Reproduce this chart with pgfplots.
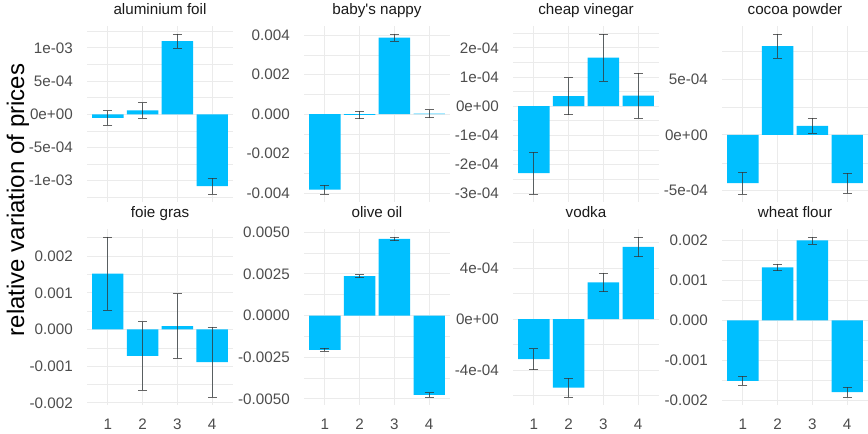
\documentclass[border=0pt]{standalone}
\usepackage{fontspec}
\setmainfont{Liberation Sans}
\usepackage{pgfplots}
\pgfplotsset{compat=1.18}
\usepackage{pgfplotstable}
\definecolor{barc}{HTML}{00BFFF}
\definecolor{gridc}{HTML}{EBEBEB}
\definecolor{tickc}{HTML}{4D4D4D}
\definecolor{stripc}{HTML}{1A1A1A}
\definecolor{errc}{HTML}{333333}

\pgfplotstableread{
x y e
1 -5.5e-5 1.1e-4
2 6e-5 1.15e-4
3 1.103e-3 1.08e-4
4 -1.083e-3 1.18e-4
}\alu
\pgfplotstableread{
x y e
1 -3.82e-3 2.2e-4
2 -4e-5 1.95e-4
3 3.88e-3 1.8e-4
4 3e-5 2e-4
}\nappy
\pgfplotstableread{
x y e
1 -2.3e-4 7.2e-5
2 3.4e-5 6.3e-5
3 1.67e-4 8.1e-5
4 3.6e-5 7.8e-5
}\vinegar
\pgfplotstableread{
x y e
1 -4.32e-4 9.7e-5
2 7.97e-4 1.08e-4
3 8.1e-5 6.7e-5
4 -4.32e-4 9e-5
}\cocoa
\pgfplotstableread{
x y e
1 1.52e-3 1.0e-3
2 -7.2e-4 9.3e-4
3 9e-5 8.8e-4
4 -8.9e-4 9.5e-4
}\foie
\pgfplotstableread{
x y e
1 -2.06e-3 9e-5
2 2.37e-3 9e-5
3 4.60e-3 1.1e-4
4 -4.75e-3 1.3e-4
}\olive
\pgfplotstableread{
x y e
1 -3.14e-4 8.3e-5
2 -5.36e-4 7.4e-5
3 2.88e-4 7.2e-5
4 5.65e-4 7.8e-5
}\vodka
\pgfplotstableread{
x y e
1 -1.515e-3 1.1e-4
2 1.33e-3 8e-5
3 2.005e-3 8.8e-5
4 -1.795e-3 1.25e-4
}\wheat

\pgfplotsset{
  panel/.style={
    anchor=south west, scale only axis, width=109.5pt, height=132pt,
    xmin=0.4, xmax=4.6, xtick={1,2,3,4},
    ybar, bar width=0.9,
    axis line style={draw=none},
    major tick length=0pt, minor tick length=0pt,
    xmajorgrids=true, ymajorgrids=true, yminorgrids=true,
    major grid style={draw=gridc, line width=0.75pt},
    minor grid style={draw=gridc, line width=0.4pt},
    scaled y ticks=false,
    tick label style={font=\fontsize{11.4}{13}\selectfont, text=tickc},
    yticklabel style={anchor=east, inner sep=0pt, xshift=-10.5pt},
    xticklabel style={anchor=base, inner sep=0pt, yshift=-18.4pt},
    title style={at={(0.5,1)}, anchor=base, inner sep=0pt, yshift=2.7pt,
      font=\fontsize{11.4}{13}\selectfont, text=stripc},
  },
  toprow/.style={xticklabels={,,,}},
  bottomrow/.style={xticklabels={1,2,3,4}},
  bars/.style={fill=barc, draw=none,
    error bars/.cd, y dir=both, y explicit, error mark=|,
    error bar style={draw=errc, draw opacity=0.75, line width=0.7pt},
    error mark options={draw=errc, draw opacity=0.75, line width=0.7pt, mark size=3.3pt}},
}

\begin{document}
\begin{tikzpicture}
\useasboundingbox (0,0) rectangle (651pt,325.5pt);

% row 1
\begin{axis}[panel, toprow, at={(65.25pt,174pt)}, title={aluminium foil},
  ymin=-1.3216e-3, ymax=1.3316e-3,
  ytick={-1e-3,-5e-4,0,5e-4,1e-3},
  yticklabels={-1e-03,-5e-04,0e+00,5e-04,1e-03},
  minor ytick={-1.25e-3,-7.5e-4,-2.5e-4,2.5e-4,7.5e-4,1.25e-3}]
\addplot[bars] table[x=x, y=y, y error=e] {\alu};
\end{axis}

\begin{axis}[panel, toprow, at={(228pt,174pt)}, title={baby\textquotesingle s nappy},
  ymin=-4.445e-3, ymax=4.465e-3,
  ytick={-0.004,-0.002,0,0.002,0.004},
  yticklabels={-0.004,-0.002,0.000,0.002,0.004},
  minor ytick={-0.003,-0.001,0.001,0.003}]
\addplot[bars] table[x=x, y=y, y error=e] {\nappy};
\end{axis}

\begin{axis}[panel, toprow, at={(384.75pt,174pt)}, title={cheap vinegar},
  ymin=-3.295e-4, ymax=2.755e-4,
  ytick={-3e-4,-2e-4,-1e-4,0,1e-4,2e-4},
  yticklabels={-3e-04,-2e-04,-1e-04,0e+00,1e-04,2e-04},
  minor ytick={-2.5e-4,-1.5e-4,-0.5e-4,0.5e-4,1.5e-4,2.5e-4}]
\addplot[bars] table[x=x, y=y, y error=e] {\vinegar};
\end{axis}

\begin{axis}[panel, toprow, at={(541.5pt,174pt)}, title={cocoa powder},
  ymin=-6.007e-4, ymax=9.767e-4,
  ytick={-5e-4,0,5e-4},
  yticklabels={-5e-04,0e+00,5e-04},
  minor ytick={-2.5e-4,2.5e-4,7.5e-4}]
\addplot[bars] table[x=x, y=y, y error=e] {\cocoa};
\end{axis}

% row 2
\begin{axis}[panel, bottomrow, at={(65.25pt,21.75pt)}, title={foie gras},
  ymin=-2.058e-3, ymax=2.738e-3,
  ytick={-0.002,-0.001,0,0.001,0.002},
  yticklabels={-0.002,-0.001,0.000,0.001,0.002},
  minor ytick={-0.0015,-0.0005,0.0005,0.0015,0.0025}]
\addplot[bars] table[x=x, y=y, y error=e] {\foie};
\end{axis}

\begin{axis}[panel, bottomrow, at={(228pt,21.75pt)}, title={olive oil},
  ymin=-5.3595e-3, ymax=5.1895e-3,
  ytick={-0.005,-0.0025,0,0.0025,0.005},
  yticklabels={-0.0050,-0.0025,0.0000,0.0025,0.0050},
  minor ytick={-0.00375,-0.00125,0.00125,0.00375}]
\addplot[bars] table[x=x, y=y, y error=e] {\olive};
\end{axis}

\begin{axis}[panel, bottomrow, at={(384.75pt,21.75pt)}, title={vodka},
  ymin=-6.7265e-4, ymax=7.0565e-4,
  ytick={-4e-4,0,4e-4},
  yticklabels={-4e-04,0e+00,4e-04},
  minor ytick={-6e-4,-2e-4,2e-4,6e-4}]
\addplot[bars] table[x=x, y=y, y error=e] {\vodka};
\end{axis}

\begin{axis}[panel, bottomrow, at={(541.5pt,21.75pt)}, title={wheat flour},
  ymin=-2.12e-3, ymax=2.293e-3,
  ytick={-0.002,-0.001,0,0.001,0.002},
  yticklabels={-0.002,-0.001,0.000,0.001,0.002},
  minor ytick={-0.0015,-0.0005,0.0005,0.0015}]
\addplot[bars] table[x=x, y=y, y error=e] {\wheat};
\end{axis}

\node[rotate=90, font=\fontsize{18}{20}\selectfont, text=black] at (13.5pt,175.5pt) {relative variation of prices};
\end{tikzpicture}
\end{document}
